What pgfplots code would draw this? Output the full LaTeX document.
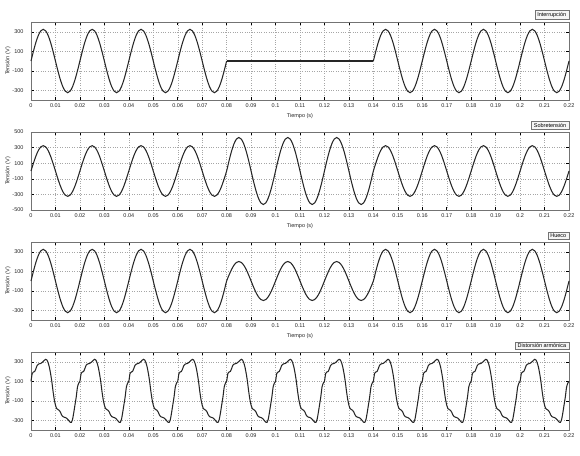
\documentclass[border=0pt]{standalone}
\usepackage{fontspec}
\setmainfont{Liberation Sans}
\usepackage{pgfplots}
\pgfplotsset{compat=1.18}
\pgfplotsset{
  panel/.style={
    scale only axis, width=538pt, height=78pt,
    anchor=north west, clip=false,
    xmin=0, xmax=220,
    xtick={0,10,...,220},
    xticklabels={0,0.01,0.02,0.03,0.04,0.05,0.06,0.07,0.08,0.09,0.1,0.11,0.12,0.13,0.14,0.15,0.16,0.17,0.18,0.19,0.2,0.21,0.22},
    ymin=-400, ymax=400, ytick={-300,-100,100,300},
    grid=major,
    major grid style={black!35, dotted, line width=0.45pt},
    axis line style={black!55, line width=0.5pt},
    tick align=inside,
    major tick length=3pt,
    tick style={black, line width=0.5pt},
    ticklabel style={font=\fontsize{5.5}{6}\selectfont, text=black!85},
    yticklabel style={xshift=-4pt},
    /pgf/number format/assume math mode=true,
    ylabel={Tensión (V)},
    every axis y label/.style={at={(axis description cs:0,0.5)}, xshift=-23pt, rotate=90, anchor=center, font=\fontsize{5.5}{6}\selectfont, text=black!85},
    every axis x label/.style={at={(axis description cs:0.5,0)}, anchor=center, yshift=-16pt, font=\fontsize{5.5}{6}\selectfont, text=black!85},
    every axis plot post/.append style={line width=1.05pt, black!85, mark=none},
  }
}
\tikzset{
  tbox/.style={anchor=south east, yshift=3pt, fill=gray!8, draw=black!55, line width=0.4pt, inner xsep=2.5pt, inner ysep=1.5pt, font=\fontsize{5.5}{6}\selectfont, text=black}
}
\begin{document}
\begin{tikzpicture}
\useasboundingbox (-31pt,22pt) rectangle (549pt,-433pt);
% ---------------- Interrupcion
\begin{axis}[panel, at={(0pt,0pt)}, xlabel={Tiempo (s)}]
\addplot[smooth] coordinates {
(0,0)(1,100)(2,191)(3,263)(4,309)(5,325)(6,309)(7,263)(8,191)(9,100)(10,0)(11,-100)(12,-191)(13,-263)(14,-309)(15,-325)(16,-309)(17,-263)(18,-191)(19,-100)
(20,0)(21,100)(22,191)(23,263)(24,309)(25,325)(26,309)(27,263)(28,191)(29,100)(30,0)(31,-100)(32,-191)(33,-263)(34,-309)(35,-325)(36,-309)(37,-263)(38,-191)(39,-100)
(40,0)(41,100)(42,191)(43,263)(44,309)(45,325)(46,309)(47,263)(48,191)(49,100)(50,0)(51,-100)(52,-191)(53,-263)(54,-309)(55,-325)(56,-309)(57,-263)(58,-191)(59,-100)
(60,0)(61,100)(62,191)(63,263)(64,309)(65,325)(66,309)(67,263)(68,191)(69,100)(70,0)(71,-100)(72,-191)(73,-263)(74,-309)(75,-325)(76,-309)(77,-263)(78,-191)(79,-100)(80,0)
};
\addplot[line width=0.75pt] coordinates {(80,0)(140,0)};
\addplot[smooth] coordinates {
(140,0)(141,100)(142,191)(143,263)(144,309)(145,325)(146,309)(147,263)(148,191)(149,100)(150,0)(151,-100)(152,-191)(153,-263)(154,-309)(155,-325)(156,-309)(157,-263)(158,-191)(159,-100)
(160,0)(161,100)(162,191)(163,263)(164,309)(165,325)(166,309)(167,263)(168,191)(169,100)(170,0)(171,-100)(172,-191)(173,-263)(174,-309)(175,-325)(176,-309)(177,-263)(178,-191)(179,-100)
(180,0)(181,100)(182,191)(183,263)(184,309)(185,325)(186,309)(187,263)(188,191)(189,100)(190,0)(191,-100)(192,-191)(193,-263)(194,-309)(195,-325)(196,-309)(197,-263)(198,-191)(199,-100)
(200,0)(201,100)(202,191)(203,263)(204,309)(205,325)(206,309)(207,263)(208,191)(209,100)(210,0)(211,-100)(212,-191)(213,-263)(214,-309)(215,-325)(216,-309)(217,-263)(218,-191)(219,-100)(220,0)
};
\node[tbox] at (rel axis cs:1,1) {Interrupción};
\end{axis}
% ---------------- Sobretension
\begin{axis}[panel, at={(0pt,-110pt)}, xlabel={Tiempo (s)}, ymin=-500, ymax=500, ytick={-500,-300,-100,100,300,500}]
\addplot[smooth] coordinates {
(0,0)(1,100)(2,191)(3,263)(4,309)(5,325)(6,309)(7,263)(8,191)(9,100)(10,0)(11,-100)(12,-191)(13,-263)(14,-309)(15,-325)(16,-309)(17,-263)(18,-191)(19,-100)
(20,0)(21,100)(22,191)(23,263)(24,309)(25,325)(26,309)(27,263)(28,191)(29,100)(30,0)(31,-100)(32,-191)(33,-263)(34,-309)(35,-325)(36,-309)(37,-263)(38,-191)(39,-100)
(40,0)(41,100)(42,191)(43,263)(44,309)(45,325)(46,309)(47,263)(48,191)(49,100)(50,0)(51,-100)(52,-191)(53,-263)(54,-309)(55,-325)(56,-309)(57,-263)(58,-191)(59,-100)
(60,0)(61,100)(62,191)(63,263)(64,309)(65,325)(66,309)(67,263)(68,191)(69,100)(70,0)(71,-100)(72,-191)(73,-263)(74,-309)(75,-325)(76,-309)(77,-263)(78,-191)(79,-100)
(80,0)(81,133)(82,253)(83,348)(84,409)(85,430)(86,409)(87,348)(88,253)(89,133)(90,0)(91,-133)(92,-253)(93,-348)(94,-409)(95,-430)(96,-409)(97,-348)(98,-253)(99,-133)
(100,0)(101,133)(102,253)(103,348)(104,409)(105,430)(106,409)(107,348)(108,253)(109,133)(110,0)(111,-133)(112,-253)(113,-348)(114,-409)(115,-430)(116,-409)(117,-348)(118,-253)(119,-133)
(120,0)(121,133)(122,253)(123,348)(124,409)(125,430)(126,409)(127,348)(128,253)(129,133)(130,0)(131,-133)(132,-253)(133,-348)(134,-409)(135,-430)(136,-409)(137,-348)(138,-253)(139,-133)
(140,0)(141,100)(142,191)(143,263)(144,309)(145,325)(146,309)(147,263)(148,191)(149,100)(150,0)(151,-100)(152,-191)(153,-263)(154,-309)(155,-325)(156,-309)(157,-263)(158,-191)(159,-100)
(160,0)(161,100)(162,191)(163,263)(164,309)(165,325)(166,309)(167,263)(168,191)(169,100)(170,0)(171,-100)(172,-191)(173,-263)(174,-309)(175,-325)(176,-309)(177,-263)(178,-191)(179,-100)
(180,0)(181,100)(182,191)(183,263)(184,309)(185,325)(186,309)(187,263)(188,191)(189,100)(190,0)(191,-100)(192,-191)(193,-263)(194,-309)(195,-325)(196,-309)(197,-263)(198,-191)(199,-100)
(200,0)(201,100)(202,191)(203,263)(204,309)(205,325)(206,309)(207,263)(208,191)(209,100)(210,0)(211,-100)(212,-191)(213,-263)(214,-309)(215,-325)(216,-309)(217,-263)(218,-191)(219,-100)(220,0)
};
\node[tbox] at (rel axis cs:1,1) {Sobretensión};
\end{axis}
% ---------------- Hueco
\begin{axis}[panel, at={(0pt,-220pt)}, xlabel={Tiempo (s)}]
\addplot[smooth] coordinates {
(0,0)(1,100)(2,191)(3,263)(4,309)(5,325)(6,309)(7,263)(8,191)(9,100)(10,0)(11,-100)(12,-191)(13,-263)(14,-309)(15,-325)(16,-309)(17,-263)(18,-191)(19,-100)
(20,0)(21,100)(22,191)(23,263)(24,309)(25,325)(26,309)(27,263)(28,191)(29,100)(30,0)(31,-100)(32,-191)(33,-263)(34,-309)(35,-325)(36,-309)(37,-263)(38,-191)(39,-100)
(40,0)(41,100)(42,191)(43,263)(44,309)(45,325)(46,309)(47,263)(48,191)(49,100)(50,0)(51,-100)(52,-191)(53,-263)(54,-309)(55,-325)(56,-309)(57,-263)(58,-191)(59,-100)
(60,0)(61,100)(62,191)(63,263)(64,309)(65,325)(66,309)(67,263)(68,191)(69,100)(70,0)(71,-100)(72,-191)(73,-263)(74,-309)(75,-325)(76,-309)(77,-263)(78,-191)(79,-100)
(80,0)(81,62)(82,118)(83,162)(84,190)(85,200)(86,190)(87,162)(88,118)(89,62)(90,0)(91,-62)(92,-118)(93,-162)(94,-190)(95,-200)(96,-190)(97,-162)(98,-118)(99,-62)
(100,0)(101,62)(102,118)(103,162)(104,190)(105,200)(106,190)(107,162)(108,118)(109,62)(110,0)(111,-62)(112,-118)(113,-162)(114,-190)(115,-200)(116,-190)(117,-162)(118,-118)(119,-62)
(120,0)(121,62)(122,118)(123,162)(124,190)(125,200)(126,190)(127,162)(128,118)(129,62)(130,0)(131,-62)(132,-118)(133,-162)(134,-190)(135,-200)(136,-190)(137,-162)(138,-118)(139,-62)
(140,0)(141,100)(142,191)(143,263)(144,309)(145,325)(146,309)(147,263)(148,191)(149,100)(150,0)(151,-100)(152,-191)(153,-263)(154,-309)(155,-325)(156,-309)(157,-263)(158,-191)(159,-100)
(160,0)(161,100)(162,191)(163,263)(164,309)(165,325)(166,309)(167,263)(168,191)(169,100)(170,0)(171,-100)(172,-191)(173,-263)(174,-309)(175,-325)(176,-309)(177,-263)(178,-191)(179,-100)
(180,0)(181,100)(182,191)(183,263)(184,309)(185,325)(186,309)(187,263)(188,191)(189,100)(190,0)(191,-100)(192,-191)(193,-263)(194,-309)(195,-325)(196,-309)(197,-263)(198,-191)(199,-100)
(200,0)(201,100)(202,191)(203,263)(204,309)(205,325)(206,309)(207,263)(208,191)(209,100)(210,0)(211,-100)(212,-191)(213,-263)(214,-309)(215,-325)(216,-309)(217,-263)(218,-191)(219,-100)(220,0)
};
\node[tbox] at (rel axis cs:1,1) {Hueco};
\end{axis}
% ---------------- Distorsion armonica
\begin{axis}[panel, at={(0pt,-330pt)}]
\addplot[smooth, tension=0.35] coordinates {
(0,100)(0.5,180)(1,195)(1.5,200)(2,228)(2.5,262)(3,275)(3.5,280)(4,283)(4.5,292)(5,303)(5.5,316)(6,325)(6.5,318)(7,290)(7.5,245)(8,180)(8.5,100)(9,0)(9.5,-85)(10,-145)(10.5,-180)(11,-190)(11.5,-198)(12,-215)(12.5,-245)(13,-262)(13.5,-268)(14,-272)(14.5,-278)(15,-290)(15.5,-305)(16,-320)(16.5,-322)(17,-290)(17.5,-220)(18,-140)(18.5,-60)(19,40)(19.5,80)
(20,100)(20.5,180)(21,195)(21.5,200)(22,228)(22.5,262)(23,275)(23.5,280)(24,283)(24.5,292)(25,303)(25.5,316)(26,325)(26.5,318)(27,290)(27.5,245)(28,180)(28.5,100)(29,0)(29.5,-85)(30,-145)(30.5,-180)(31,-190)(31.5,-198)(32,-215)(32.5,-245)(33,-262)(33.5,-268)(34,-272)(34.5,-278)(35,-290)(35.5,-305)(36,-320)(36.5,-322)(37,-290)(37.5,-220)(38,-140)(38.5,-60)(39,40)(39.5,80)
(40,100)(40.5,180)(41,195)(41.5,200)(42,228)(42.5,262)(43,275)(43.5,280)(44,283)(44.5,292)(45,303)(45.5,316)(46,325)(46.5,318)(47,290)(47.5,245)(48,180)(48.5,100)(49,0)(49.5,-85)(50,-145)(50.5,-180)(51,-190)(51.5,-198)(52,-215)(52.5,-245)(53,-262)(53.5,-268)(54,-272)(54.5,-278)(55,-290)(55.5,-305)(56,-320)(56.5,-322)(57,-290)(57.5,-220)(58,-140)(58.5,-60)(59,40)(59.5,80)
(60,100)(60.5,180)(61,195)(61.5,200)(62,228)(62.5,262)(63,275)(63.5,280)(64,283)(64.5,292)(65,303)(65.5,316)(66,325)(66.5,318)(67,290)(67.5,245)(68,180)(68.5,100)(69,0)(69.5,-85)(70,-145)(70.5,-180)(71,-190)(71.5,-198)(72,-215)(72.5,-245)(73,-262)(73.5,-268)(74,-272)(74.5,-278)(75,-290)(75.5,-305)(76,-320)(76.5,-322)(77,-290)(77.5,-220)(78,-140)(78.5,-60)(79,40)(79.5,80)
(80,100)(80.5,180)(81,195)(81.5,200)(82,228)(82.5,262)(83,275)(83.5,280)(84,283)(84.5,292)(85,303)(85.5,316)(86,325)(86.5,318)(87,290)(87.5,245)(88,180)(88.5,100)(89,0)(89.5,-85)(90,-145)(90.5,-180)(91,-190)(91.5,-198)(92,-215)(92.5,-245)(93,-262)(93.5,-268)(94,-272)(94.5,-278)(95,-290)(95.5,-305)(96,-320)(96.5,-322)(97,-290)(97.5,-220)(98,-140)(98.5,-60)(99,40)(99.5,80)
(100,100)(100.5,180)(101,195)(101.5,200)(102,228)(102.5,262)(103,275)(103.5,280)(104,283)(104.5,292)(105,303)(105.5,316)(106,325)(106.5,318)(107,290)(107.5,245)(108,180)(108.5,100)(109,0)(109.5,-85)(110,-145)(110.5,-180)(111,-190)(111.5,-198)(112,-215)(112.5,-245)(113,-262)(113.5,-268)(114,-272)(114.5,-278)(115,-290)(115.5,-305)(116,-320)(116.5,-322)(117,-290)(117.5,-220)(118,-140)(118.5,-60)(119,40)(119.5,80)
(120,100)(120.5,180)(121,195)(121.5,200)(122,228)(122.5,262)(123,275)(123.5,280)(124,283)(124.5,292)(125,303)(125.5,316)(126,325)(126.5,318)(127,290)(127.5,245)(128,180)(128.5,100)(129,0)(129.5,-85)(130,-145)(130.5,-180)(131,-190)(131.5,-198)(132,-215)(132.5,-245)(133,-262)(133.5,-268)(134,-272)(134.5,-278)(135,-290)(135.5,-305)(136,-320)(136.5,-322)(137,-290)(137.5,-220)(138,-140)(138.5,-60)(139,40)(139.5,80)
(140,100)(140.5,180)(141,195)(141.5,200)(142,228)(142.5,262)(143,275)(143.5,280)(144,283)(144.5,292)(145,303)(145.5,316)(146,325)(146.5,318)(147,290)(147.5,245)(148,180)(148.5,100)(149,0)(149.5,-85)(150,-145)(150.5,-180)(151,-190)(151.5,-198)(152,-215)(152.5,-245)(153,-262)(153.5,-268)(154,-272)(154.5,-278)(155,-290)(155.5,-305)(156,-320)(156.5,-322)(157,-290)(157.5,-220)(158,-140)(158.5,-60)(159,40)(159.5,80)
(160,100)(160.5,180)(161,195)(161.5,200)(162,228)(162.5,262)(163,275)(163.5,280)(164,283)(164.5,292)(165,303)(165.5,316)(166,325)(166.5,318)(167,290)(167.5,245)(168,180)(168.5,100)(169,0)(169.5,-85)(170,-145)(170.5,-180)(171,-190)(171.5,-198)(172,-215)(172.5,-245)(173,-262)(173.5,-268)(174,-272)(174.5,-278)(175,-290)(175.5,-305)(176,-320)(176.5,-322)(177,-290)(177.5,-220)(178,-140)(178.5,-60)(179,40)(179.5,80)
(180,100)(180.5,180)(181,195)(181.5,200)(182,228)(182.5,262)(183,275)(183.5,280)(184,283)(184.5,292)(185,303)(185.5,316)(186,325)(186.5,318)(187,290)(187.5,245)(188,180)(188.5,100)(189,0)(189.5,-85)(190,-145)(190.5,-180)(191,-190)(191.5,-198)(192,-215)(192.5,-245)(193,-262)(193.5,-268)(194,-272)(194.5,-278)(195,-290)(195.5,-305)(196,-320)(196.5,-322)(197,-290)(197.5,-220)(198,-140)(198.5,-60)(199,40)(199.5,80)
(200,100)(200.5,180)(201,195)(201.5,200)(202,228)(202.5,262)(203,275)(203.5,280)(204,283)(204.5,292)(205,303)(205.5,316)(206,325)(206.5,318)(207,290)(207.5,245)(208,180)(208.5,100)(209,0)(209.5,-85)(210,-145)(210.5,-180)(211,-190)(211.5,-198)(212,-215)(212.5,-245)(213,-262)(213.5,-268)(214,-272)(214.5,-278)(215,-290)(215.5,-305)(216,-320)(216.5,-322)(217,-290)(217.5,-220)(218,-140)(218.5,-60)(219,40)(219.5,80)
(220,100)
};
\node[tbox] at (rel axis cs:1,1) {Distorsión armónica};
\end{axis}
\end{tikzpicture}
\end{document}
